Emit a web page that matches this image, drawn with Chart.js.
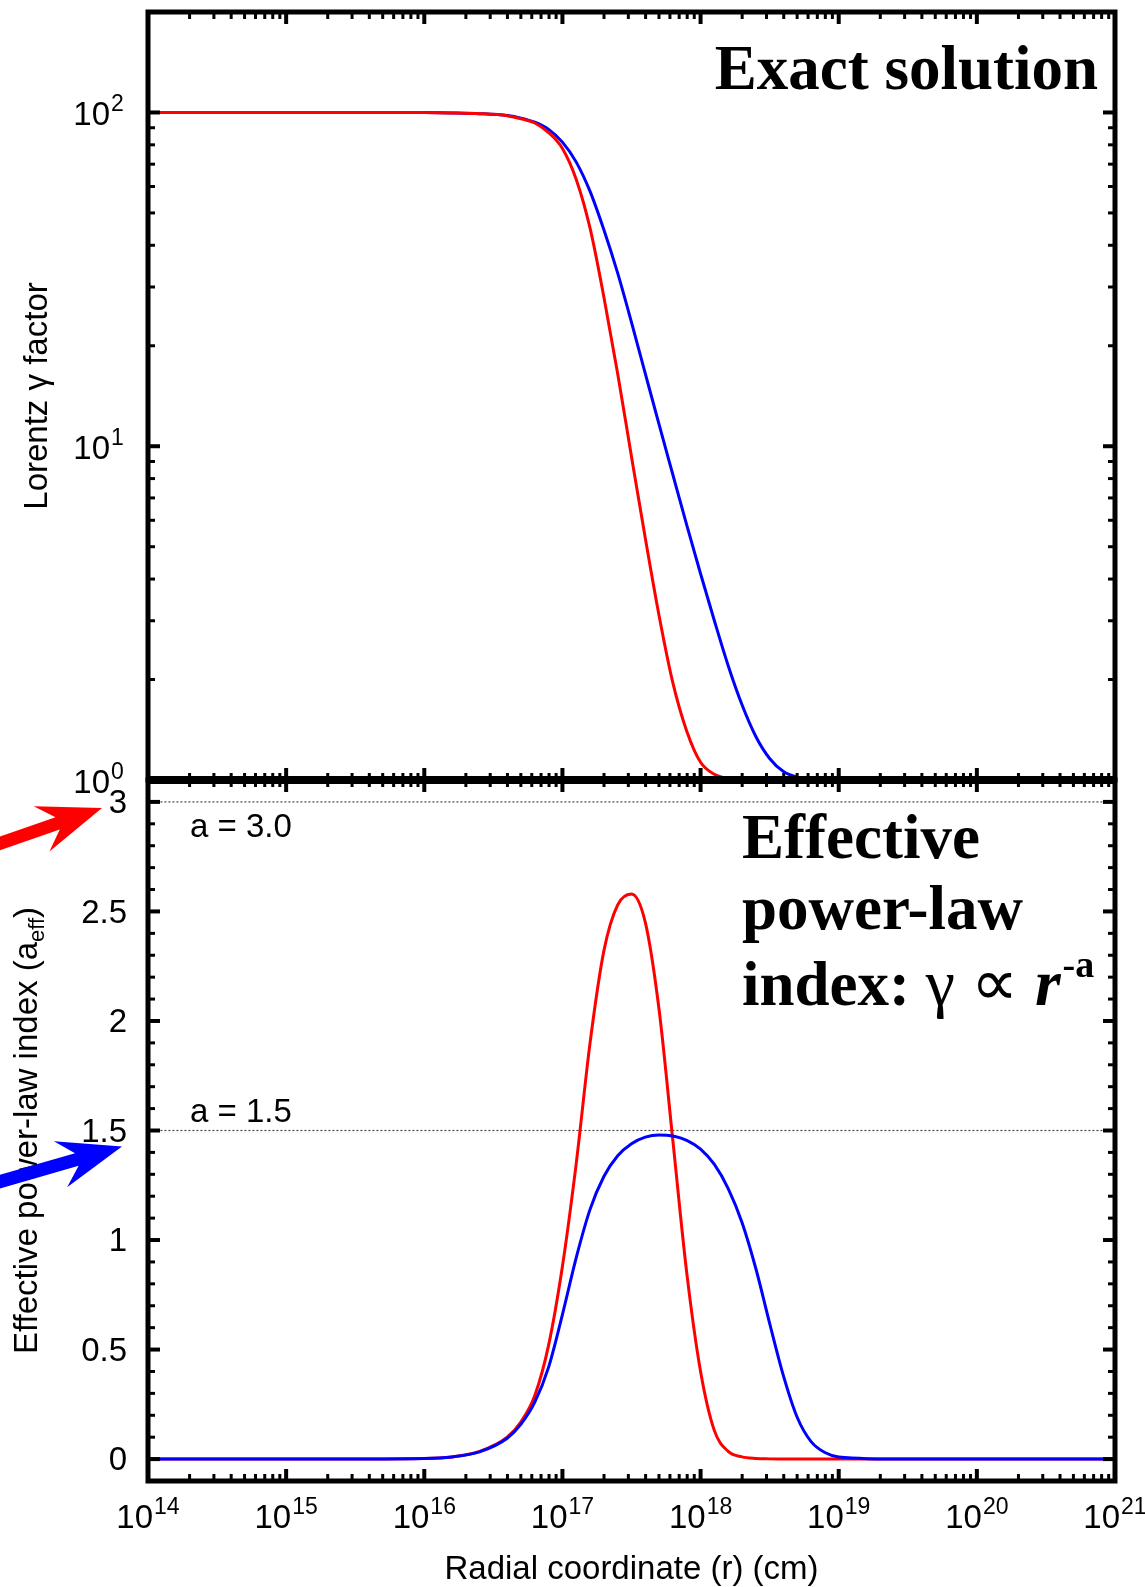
<!DOCTYPE html>
<html>
<head>
<meta charset="utf-8">
<title>Lorentz factor and effective power-law index</title>
<script src="https://cdn.jsdelivr.net/npm/chart.js@4.4.1/dist/chart.umd.min.js"></script>
<style>
  html, body { margin: 0; padding: 0; background: #fff; }
  #wrap { position: relative; width: 1145px; height: 1587px; }
  #wrap canvas { position: absolute; left: 0; top: 0; }
</style>
</head>
<body>
<div id="wrap">
  <canvas id="gammaChart" width="1145" height="1587"></canvas>
  <canvas id="indexChart" width="1145" height="1587"></canvas>
</div>
<script>
// sample radii, as log10(r / cm)
const logR = [14, 15, 16, 16.2, 16.4, 16.6, 16.7, 16.8, 16.9, 17.0, 17.1, 17.2, 17.3, 17.4, 17.5, 17.6, 17.7, 17.8, 17.9,
  18.0, 18.1, 18.2, 18.3, 18.4, 18.5, 18.6, 18.7, 18.8, 18.9, 19.0, 19.5, 20, 21];

// Lorentz gamma factor (top panel)
const gammaRed = [100, 100, 99.9, 99.7, 99.2, 97.8, 95.8, 93, 87, 78, 63, 45, 28, 16.5, 9.3, 5.3, 3.1, 1.95, 1.4,
  1.13, 1.04, 1.01, 1.002, 1, 1, 1, 1, 1, 1, 1, 1, 1, 1];
const gammaBlue = [100, 100, 99.9, 99.7, 99.2, 97.9, 96.2, 93.5, 89, 81.5, 71, 58, 44.5, 33, 23.5, 16.5, 11.6, 8.2, 5.8,
  4.15, 3.0, 2.2, 1.68, 1.35, 1.16, 1.06, 1.02, 1.005, 1, 1, 1, 1, 1];

// effective power-law index a_eff (bottom panel)
const indexRed = [0, 0, 0.003, 0.01, 0.035, 0.10, 0.17, 0.29, 0.52, 0.88, 1.35, 1.90, 2.32, 2.53, 2.58, 2.45, 2.05, 1.45, 0.85,
  0.40, 0.13, 0.035, 0.01, 0.003, 0.001, 0, 0, 0, 0, 0, 0, 0, 0];
const indexBlue = [0, 0, 0.003, 0.01, 0.033, 0.095, 0.16, 0.26, 0.42, 0.66, 0.92, 1.14, 1.29, 1.385, 1.44, 1.47, 1.48, 1.475, 1.455,
  1.415, 1.345, 1.235, 1.08, 0.87, 0.62, 0.38, 0.19, 0.08, 0.03, 0.01, 0, 0, 0];

// reference lines in the bottom panel
const refLevels = [3.0, 1.5];
const refLabels = ['a = 3.0', 'a = 1.5'];

// tick labels
const xTickExps = [14, 15, 16, 17, 18, 19, 20, 21];
const gammaTickExps = [0, 1, 2];
const indexTicks = [0, 0.5, 1, 1.5, 2, 2.5, 3];

const SANS = '"Liberation Sans", Arial, sans-serif';
const SERIF = '"Liberation Serif", "Times New Roman", serif';

function toPoints(vals) {
  return vals.map((v, i) => ({ x: Math.pow(10, logR[i]), y: v }));
}

function line(ctx, x0, y0, x1, y1) {
  ctx.beginPath();
  ctx.moveTo(x0, y0);
  ctx.lineTo(x1, y1);
  ctx.stroke();
}

// "10" with a raised exponent; align 'center' centres the whole label, 'right' puts "10" ending at x
function drawPower(ctx, exp, x, y, align) {
  ctx.font = '33px ' + SANS;
  const wb = ctx.measureText('10').width;
  ctx.font = '23px ' + SANS;
  const we = ctx.measureText(String(exp)).width;
  const left = align === 'center' ? x - (wb + we + 1) / 2 : x - wb;
  ctx.textAlign = 'left';
  ctx.textBaseline = 'alphabetic';
  ctx.font = '33px ' + SANS;
  ctx.fillText('10', left, y);
  ctx.font = '23px ' + SANS;
  ctx.fillText(String(exp), left + wb + 1, y - 14);
}

function drawArrow(ctx, x0, y0, x1, y1, color) {
  const ang = Math.atan2(y1 - y0, x1 - x0);
  const len = Math.hypot(x1 - x0, y1 - y0);
  ctx.save();
  ctx.fillStyle = color;
  ctx.translate(x1, y1);
  ctx.rotate(ang);
  ctx.beginPath();
  ctx.moveTo(0, 0);
  ctx.lineTo(-64, -24);
  ctx.lineTo(-47, -6.5);
  ctx.lineTo(-len, -6.5);
  ctx.lineTo(-len, 6.5);
  ctx.lineTo(-47, 6.5);
  ctx.lineTo(-64, 24);
  ctx.closePath();
  ctx.fill();
  ctx.restore();
}

// gnuplot-like frame: thick border, inward ticks on all four sides
const frameAxes = {
  id: 'frameAxes',
  afterDatasetsDraw(chart, args, opts) {
    const ctx = chart.ctx;
    const a = chart.chartArea;
    const xs = chart.scales.x;
    const ys = chart.scales.y;
    ctx.save();
    ctx.strokeStyle = '#000';

    // x ticks, top and bottom edges
    xTickExps.forEach(e => {
      for (let m = 1; m <= 9; m++) {
        const v = m * Math.pow(10, e);
        if (v > xs.max * 1.0001) break;
        const px = xs.getPixelForValue(v);
        const len = m === 1 ? 12 : 7;
        ctx.lineWidth = m === 1 ? 4 : 3;
        line(ctx, px, a.bottom, px, a.bottom - len);
        line(ctx, px, a.top, px, a.top + len);
      }
    });

    // y ticks, left and right edges
    const yt = [];
    if (opts.logY) {
      gammaTickExps.forEach(e => {
        for (let m = 1; m <= 9; m++) {
          const v = m * Math.pow(10, e);
          if (v <= ys.max) yt.push({ v, major: m === 1 });
        }
      });
    } else {
      for (let i = -1; i <= 31; i++) {
        yt.push({ v: i / 10, major: i % 5 === 0 });
      }
    }
    yt.forEach(t => {
      const py = ys.getPixelForValue(t.v);
      const len = t.major ? 12 : 7;
      ctx.lineWidth = t.major ? 4 : 3;
      line(ctx, a.left, py, a.left + len, py);
      line(ctx, a.right, py, a.right - len, py);
    });

    // border
    ctx.lineWidth = 5;
    ctx.strokeRect(a.left, a.top, a.right - a.left, a.bottom - a.top);
    if (opts.divider) {
      ctx.lineWidth = 8;
      line(ctx, a.left - 2, a.top, a.right + 2, a.top);
    }
    ctx.restore();
  },
  afterDraw(chart, args, opts) {
    const ctx = chart.ctx;
    const a = chart.chartArea;
    const xs = chart.scales.x;
    const ys = chart.scales.y;
    ctx.save();
    ctx.fillStyle = '#000';

    if (opts.logY) {
      gammaTickExps.forEach(e => {
        const py = ys.getPixelForValue(Math.pow(10, e));
        drawPower(ctx, e, a.left - 38, py + 13, 'right');
      });
      // y title
      ctx.save();
      ctx.translate(38, (a.top + a.bottom) / 2);
      ctx.rotate(-Math.PI / 2);
      ctx.font = '33px ' + SANS;
      ctx.textAlign = 'center';
      ctx.textBaseline = 'middle';
      ctx.fillText('Lorentz \u03b3 factor', 0, 0);
      ctx.restore();
      // panel title
      ctx.font = 'bold 63px ' + SERIF;
      ctx.textAlign = 'right';
      ctx.textBaseline = 'alphabetic';
      ctx.fillText('Exact solution', a.right - 17, a.top + 77);
    } else {
      // y tick labels
      ctx.font = '33px ' + SANS;
      ctx.textAlign = 'right';
      ctx.textBaseline = 'middle';
      indexTicks.forEach(v => {
        ctx.fillText(String(v), a.left - 21, ys.getPixelForValue(v) + 2);
      });

      // x tick labels
      xTickExps.forEach(e => {
        drawPower(ctx, e, xs.getPixelForValue(Math.pow(10, e)), a.bottom + 47, 'center');
      });

      // x title
      ctx.font = '33px ' + SANS;
      ctx.textAlign = 'center';
      ctx.textBaseline = 'alphabetic';
      ctx.fillText('Radial coordinate (r) (cm)', (a.left + a.right) / 2, a.bottom + 98);

      // reference line labels
      ctx.textAlign = 'left';
      ctx.fillText(refLabels[0], a.left + 42, ys.getPixelForValue(refLevels[0]) + 35);
      ctx.fillText(refLabels[1], a.left + 42, ys.getPixelForValue(refLevels[1]) - 9);

      // y title with subscript
      ctx.save();
      ctx.translate(37, (a.top + a.bottom) / 2);
      ctx.rotate(-Math.PI / 2);
      const t1 = 'Effective power-law index (a';
      const t2 = 'eff';
      const t3 = ')';
      ctx.font = '33px ' + SANS;
      const w1 = ctx.measureText(t1).width;
      const w3 = ctx.measureText(t3).width;
      ctx.font = '22px ' + SANS;
      const w2 = ctx.measureText(t2).width;
      const x = -(w1 + w2 + w3) / 2;
      ctx.textAlign = 'left';
      ctx.textBaseline = 'alphabetic';
      ctx.font = '33px ' + SANS;
      ctx.fillText(t1, x, 0);
      ctx.font = '22px ' + SANS;
      ctx.fillText(t2, x + w1, 7);
      ctx.font = '33px ' + SANS;
      ctx.fillText(t3, x + w1 + w2, 0);
      ctx.restore();

      // panel title
      const tx = a.left + 594;
      ctx.textAlign = 'left';
      ctx.font = 'bold 63px ' + SERIF;
      ctx.fillText('Effective', tx, a.top + 78);
      ctx.fillText('power-law', tx, a.top + 149);
      const by = a.top + 225;
      let cx = tx;
      ctx.fillText('index: ', cx, by);
      cx += ctx.measureText('index: ').width;
      ctx.font = '66px ' + SERIF;
      ctx.fillText('\u03b3 \u221d ', cx, by);
      cx += ctx.measureText('\u03b3 \u221d ').width;
      ctx.font = 'italic bold 66px ' + SERIF;
      ctx.fillText('r', cx, by);
      cx += ctx.measureText('r').width + 2;
      ctx.font = 'bold 38px ' + SERIF;
      ctx.fillText('-a', cx, by - 28);

      // arrows pointing at the two reference levels
      drawArrow(ctx, -10, ys.getPixelForValue(3) + 45, a.left - 46, ys.getPixelForValue(3) + 6, '#ff0000');
      drawArrow(ctx, -10, ys.getPixelForValue(1.5) + 54, a.left - 26, ys.getPixelForValue(1.5) + 16, '#0000ff');
    }
    ctx.restore();
  }
};

const lineStyle = { borderWidth: 3, pointRadius: 0, cubicInterpolationMode: 'monotone', fill: false };

new Chart(document.getElementById('gammaChart'), {
  type: 'line',
  data: {
    datasets: [
      Object.assign({ label: 'gamma red', data: toPoints(gammaRed), borderColor: '#ff0000', order: 0 }, lineStyle),
      Object.assign({ label: 'gamma blue', data: toPoints(gammaBlue), borderColor: '#0000ff', order: 1 }, lineStyle)
    ]
  },
  options: {
    responsive: false,
    animation: false,
    layout: { padding: { left: 148, top: 12, right: 30, bottom: 807 } },
    plugins: { legend: { display: false }, tooltip: { enabled: false }, frameAxes: { logY: true } },
    scales: {
      x: { type: 'logarithmic', min: 1e14, max: 1e21, display: false },
      y: { type: 'logarithmic', min: 1, max: 200, display: false }
    }
  },
  plugins: [frameAxes]
});

const refStart = Math.pow(10, 14.09);
new Chart(document.getElementById('indexChart'), {
  type: 'line',
  data: {
    datasets: [
      Object.assign({ label: 'a_eff blue', data: toPoints(indexBlue), borderColor: '#0000ff', order: 0 }, lineStyle),
      Object.assign({ label: 'a_eff red', data: toPoints(indexRed), borderColor: '#ff0000', order: 1 }, lineStyle),
      ...refLevels.map((lv, i) => ({
        label: refLabels[i],
        data: [{ x: refStart, y: lv }, { x: 1e21, y: lv }],
        borderColor: '#444',
        borderWidth: 1.2,
        borderDash: [2, 2],
        pointRadius: 0,
        order: 2
      }))
    ]
  },
  options: {
    responsive: false,
    animation: false,
    layout: { padding: { left: 148, top: 780, right: 30, bottom: 106 } },
    plugins: { legend: { display: false }, tooltip: { enabled: false }, frameAxes: { logY: false, divider: true } },
    scales: {
      x: { type: 'logarithmic', min: 1e14, max: 1e21, display: false },
      y: { type: 'linear', min: -0.1, max: 3.1, display: false }
    }
  },
  plugins: [frameAxes]
});
</script>
</body>
</html>
